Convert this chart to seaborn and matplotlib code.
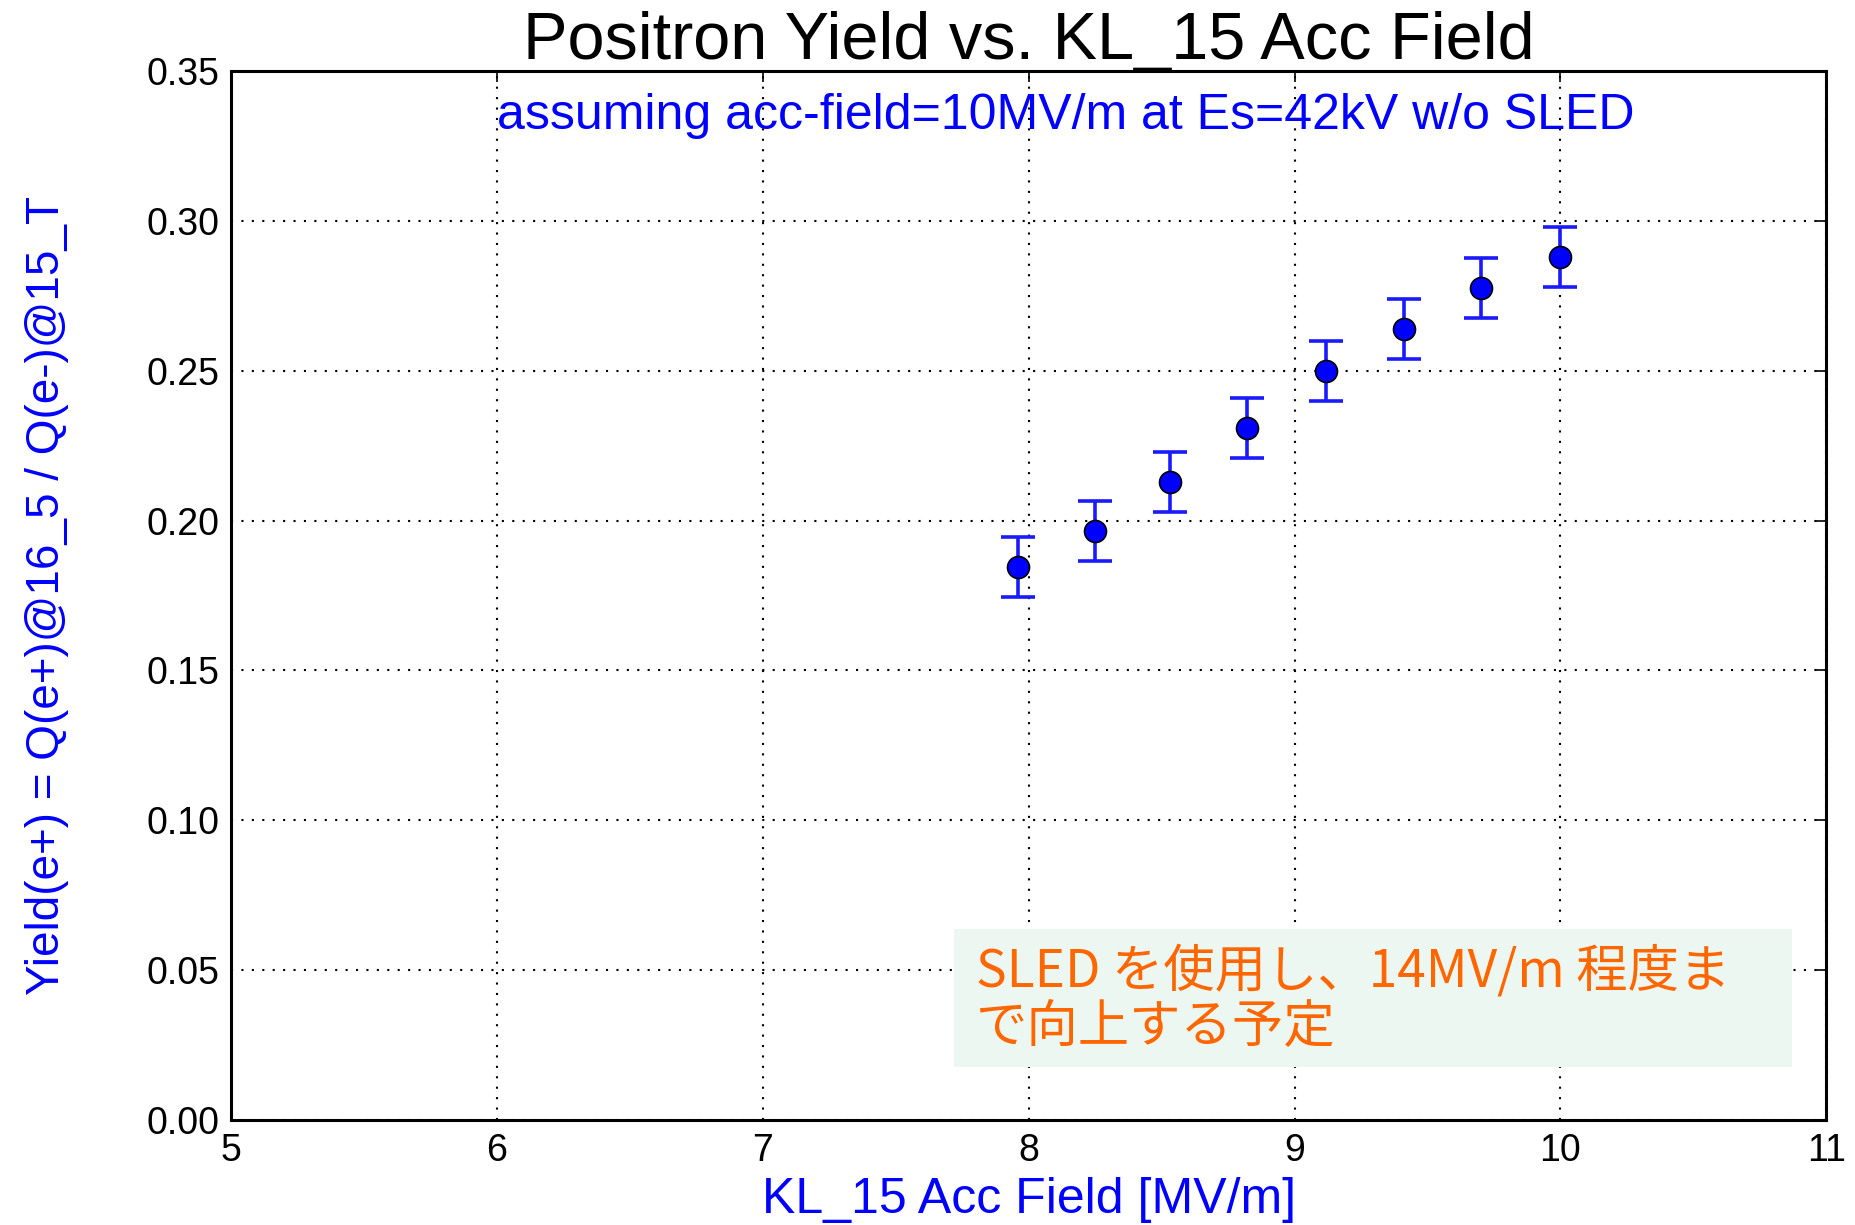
import matplotlib
matplotlib.use("Agg")
import matplotlib.pyplot as plt
import seaborn as sns
import pandas as pd

# Measured positron yield versus KL_15 accelerating field
acc_field = [7.96, 8.25, 8.53, 8.82, 9.12, 9.41, 9.70, 10.00]
yield_ep = [0.1845, 0.1965, 0.2128, 0.2308, 0.2500, 0.2640, 0.2776, 0.2878]
yield_err = [0.010, 0.010, 0.010, 0.010, 0.010, 0.010, 0.010, 0.010]

x_ticks = [5, 6, 7, 8, 9, 10, 11]
y_ticks = [0.00, 0.05, 0.10, 0.15, 0.20, 0.25, 0.30, 0.35]

title = "Positron Yield vs. KL_15 Acc Field"
x_label = "KL_15 Acc Field [MV/m]"
y_label = "Yield(e+) = Q(e+)@16_5 / Q(e-)@15_T"
note = "assuming acc-field=10MV/m at Es=42kV w/o SLED"
plan = "SLED を使用し、14MV/m 程度ま\nで向上する予定"

df = pd.DataFrame({"field": acc_field, "yield": yield_ep, "err": yield_err})

sns.set_theme(style="white")
plt.rcParams["font.family"] = ["Liberation Sans", "DejaVu Sans"]

fig = plt.figure(figsize=(18.56, 12.25), dpi=100)
ax = fig.add_axes([0.1245, 0.0857, 0.8595, 0.8563])

ax.errorbar(df["field"], df["yield"], yerr=df["err"], fmt="none",
            ecolor="#1a1aff", elinewidth=2.6, capsize=12, capthick=2.6, zorder=3)
sns.scatterplot(data=df, x="field", y="yield", ax=ax, s=250, color="#0000ff",
                edgecolor="black", linewidth=1.2, zorder=4)

ax.set_xlim(5, 11)
ax.set_ylim(0, 0.35)
ax.set_xticks(x_ticks)
ax.set_yticks(y_ticks)
ax.set_xticklabels([str(t) for t in x_ticks])
ax.set_yticklabels([f"{t:.2f}" for t in y_ticks])
ax.tick_params(axis="both", direction="in", length=8, width=1.2, labelsize=27,
               colors="black", top=True, right=True)
ax.tick_params(axis="x", pad=9)
ax.tick_params(axis="y", pad=8)

ax.grid(True, color="black", linestyle=(0, (1, 4)), linewidth=1.5)
for sp in ax.spines.values():
    sp.set_color("black")
    sp.set_linewidth(2.2)

ax.set_title(title, fontsize=48, color="black", pad=9)
ax.set_xlabel(x_label, fontsize=36, color="#0000ff", labelpad=6)
ax.set_ylabel(y_label, fontsize=33, color="#0000ff", labelpad=56)

ax.text(6.0, 0.335, note, fontsize=36, color="#0000ff", ha="left", va="center")

ax.add_patch(plt.Rectangle((7.72, 0.0178), 3.15, 0.0458, facecolor="#edf7f1",
                           edgecolor="none", zorder=2))
ax.text(7.80, 0.0403, plan, fontsize=37, color="#ff6600", ha="left", va="center",
        family=["Noto Sans CJK JP", "DejaVu Sans"], linespacing=1.05, zorder=5)

ax.set_axisbelow(True)
fig.savefig("out.png", dpi=100)
